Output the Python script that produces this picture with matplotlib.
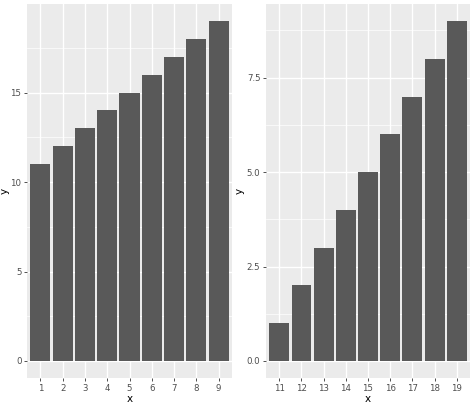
import numpy as np
import matplotlib.pyplot as plt
from matplotlib.ticker import MultipleLocator

# data
x_left = [1, 2, 3, 4, 5, 6, 7, 8, 9]
y_left = [11, 12, 13, 14, 15, 16, 17, 18, 19]
x_right = [11, 12, 13, 14, 15, 16, 17, 18, 19]
y_right = [1, 2, 3, 4, 5, 6, 7, 8, 9]

BG = '#EBEBEB'
BAR = '#595959'
TXT = '#4D4D4D'

fig = plt.figure(figsize=(4.74, 4.05), dpi=100)
ax1 = fig.add_axes([27/474, 1 - 378/405, (232 - 27)/474, (378 - 4)/405])
ax2 = fig.add_axes([266/474, 1 - 378/405, (470 - 266)/474, (378 - 4)/405])


def style(ax, xs, ys, major, fmt, ylab_x):
    ax.set_facecolor(BG)
    for s in ax.spines.values():
        s.set_visible(False)
    ax.set_axisbelow(True)
    ax.bar(xs, ys, width=0.9, color=BAR, zorder=2)
    ax.set_xlim(xs[0] - 0.6, xs[-1] + 0.6)
    top = max(ys) * 1.05
    ax.set_ylim(-max(ys) * 0.05, top)
    ax.set_xticks(xs)
    ax.set_xticklabels([str(v) for v in xs])
    ax.yaxis.set_major_locator(MultipleLocator(major))
    ax.yaxis.set_minor_locator(MultipleLocator(major / 2))
    ax.set_yticklabels([fmt % t for t in ax.get_yticks()])
    ax.set_ylim(-max(ys) * 0.05, top)
    ax.grid(which='major', color='white', lw=1.0)
    ax.grid(which='minor', axis='y', color='white', lw=0.5)
    ax.tick_params(which='major', length=2.5, width=0.6, color='#333333',
                   labelsize=6.2, labelcolor=TXT, pad=1.5)
    ax.tick_params(which='minor', length=0)
    ax.set_xlabel('x', fontsize=7.5, labelpad=1)
    ax.set_ylabel('y', fontsize=7.5)
    ax.yaxis.set_label_coords(ylab_x, 0.5)


style(ax1, x_left, y_left, 5, '%d', -0.085)
style(ax2, x_right, y_right, 2.5, '%.1f', -0.105)

fig.savefig('out.png', dpi=100)
